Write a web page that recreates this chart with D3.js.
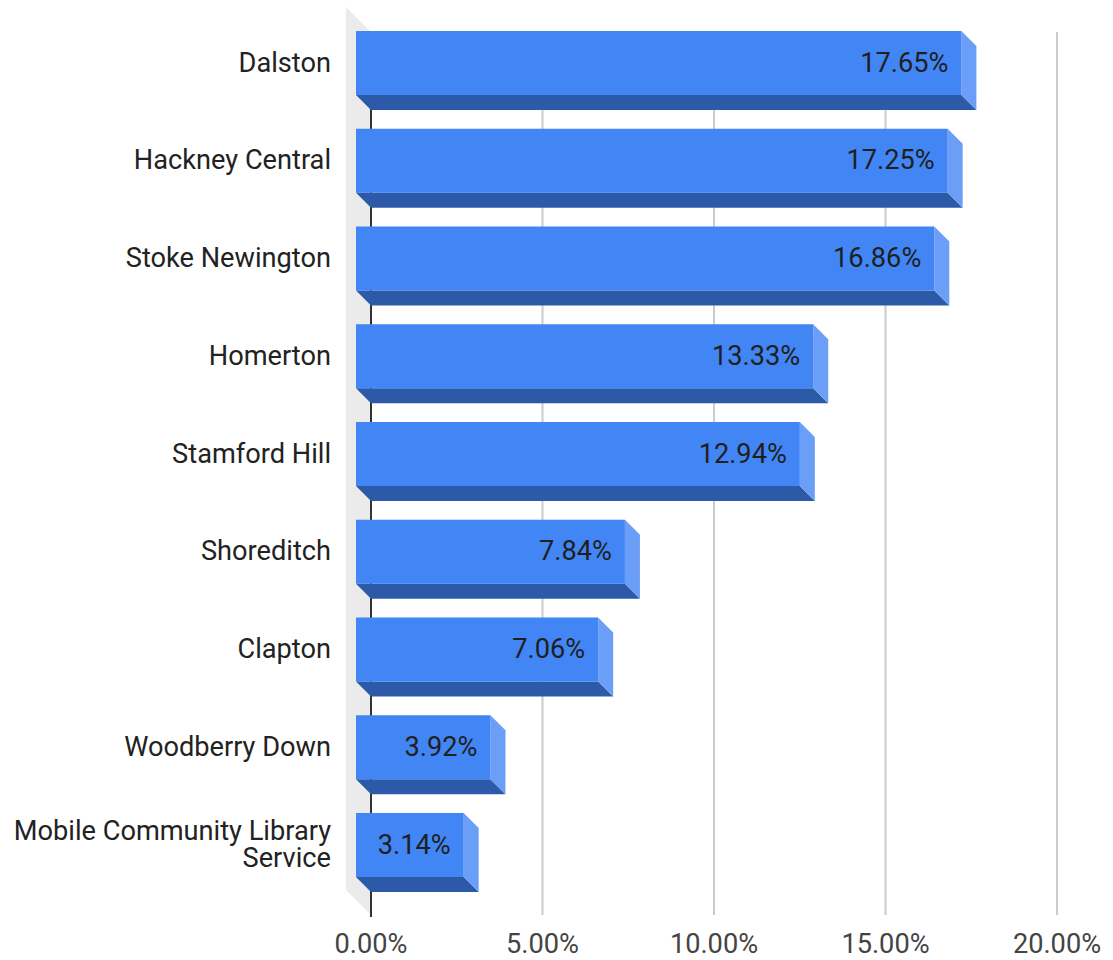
<!DOCTYPE html>
<html>
<head>
<meta charset="utf-8">
<script src="https://cdn.jsdelivr.net/npm/d3@7"></script>
<style>
  html, body { margin: 0; padding: 0; background: #ffffff; }
  svg { display: block; font-family: Roboto, "Noto Sans", Arial, sans-serif; }
</style>
</head>
<body>
<svg id="chart" width="1113" height="960"></svg>
<script>
// Share of visits by library branch
const branches = [
  "Dalston",
  "Hackney Central",
  "Stoke Newington",
  "Homerton",
  "Stamford Hill",
  "Shoreditch",
  "Clapton",
  "Woodberry Down",
  "Mobile Community Library Service"
];
const shares = [17.65, 17.25, 16.86, 13.33, 12.94, 7.84, 7.06, 3.92, 3.14];
const tickValues = [0, 5, 10, 15, 20];

const svg = d3.select("#chart");
const fontSize = 27.2;

// Back plane of the 3D plot area
const plotLeft = 371, plotRight = 1057, plotTop = 32, plotBottom = 915;
const barDepth = 15;   // front face offset for each bar
const wallDepth = 25;  // depth of the grey side wall

const x = d3.scaleLinear().domain([0, 20]).range([plotLeft, plotRight]);
const y = d3.scaleBand().domain(branches).range([46, 892]).paddingInner(0.345).paddingOuter(0);
const bw = y.bandwidth();

// Grey wall on the zero side
svg.append("polygon")
  .attr("points", [
    [plotLeft - wallDepth, plotTop - wallDepth],
    [plotLeft, plotTop],
    [plotLeft, plotBottom],
    [plotLeft - wallDepth, plotBottom - wallDepth]
  ].map(p => p.join(",")).join(" "))
  .attr("fill", "#ebebeb");

// Vertical gridlines
svg.append("g").selectAll("line")
  .data(tickValues.filter(v => v > 0))
  .join("line")
  .attr("x1", d => x(d)).attr("x2", d => x(d))
  .attr("y1", plotTop).attr("y2", plotBottom)
  .attr("stroke", "#cccccc").attr("stroke-width", 2);

// Zero baseline
svg.append("line")
  .attr("x1", x(0)).attr("x2", x(0))
  .attr("y1", plotTop).attr("y2", plotBottom + 2)
  .attr("stroke", "#333333").attr("stroke-width", 2);

// Bars with bottom and side faces
const bars = svg.append("g").selectAll("g")
  .data(branches.map((b, i) => ({ name: b, value: shares[i] })))
  .join("g");

const pts = a => a.map(p => p.join(",")).join(" ");

bars.each(function(d) {
  const g = d3.select(this);
  const fx0 = x(0) - barDepth, fx1 = x(d.value) - barDepth;
  const fy0 = y(d.name) - barDepth, fy1 = fy0 + bw;
  g.append("polygon")
    .attr("points", pts([[fx0, fy1], [fx1, fy1], [fx1 + barDepth, fy1 + barDepth], [fx0 + barDepth, fy1 + barDepth]]))
    .attr("fill", "#2d5aa8");
  g.append("polygon")
    .attr("points", pts([[fx1, fy0], [fx1 + barDepth, fy0 + barDepth], [fx1 + barDepth, fy1 + barDepth], [fx1, fy1]]))
    .attr("fill", "#6a9ef7");
  g.append("rect")
    .attr("x", fx0).attr("y", fy0)
    .attr("width", fx1 - fx0).attr("height", bw)
    .attr("fill", "#4285f4");
  g.append("text")
    .attr("x", fx1 - 13)
    .attr("y", fy0 + bw / 2 - 1)
    .attr("dy", "0.35em")
    .attr("text-anchor", "end")
    .attr("font-size", fontSize)
    .attr("fill", "#1f1f1f")
    .text(d.value.toFixed(2) + "%");
});

// Category labels (wrapped when too long)
const catG = svg.append("g");
branches.forEach(b => {
  const cy = y(b) - barDepth + bw / 2 - 1;
  const lines = b === "Mobile Community Library Service"
    ? ["Mobile Community Library", "Service"] : [b];
  const lh = 27;
  const t = catG.append("text")
    .attr("text-anchor", "end")
    .attr("font-size", fontSize)
    .attr("fill", "#222222");
  lines.forEach((ln, i) => {
    t.append("tspan")
      .attr("x", 331)
      .attr("y", cy + (i - (lines.length - 1) / 2) * lh)
      .attr("dy", "0.35em")
      .text(ln);
  });
});

// Horizontal axis tick labels
svg.append("g").selectAll("text")
  .data(tickValues)
  .join("text")
  .attr("x", d => x(d))
  .attr("y", 953)
  .attr("text-anchor", "middle")
  .attr("font-size", fontSize)
  .attr("fill", "#444444")
  .text(d => d.toFixed(2) + "%");
</script>
</body>
</html>
